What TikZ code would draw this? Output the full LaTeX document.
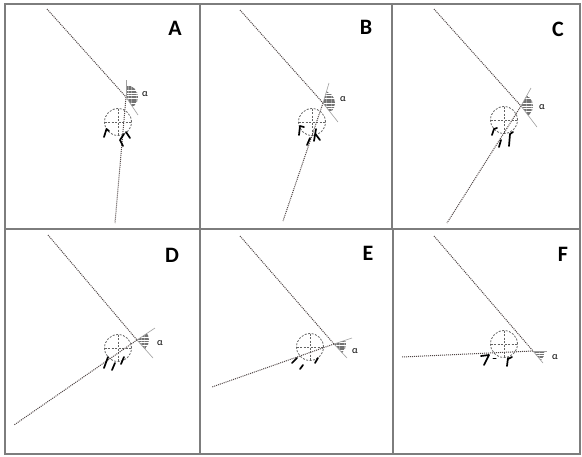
\documentclass[tikz,border=0pt]{standalone}
\usepackage{fontspec}
\setmainfont{Carlito}
\usetikzlibrary{calc,patterns.meta}
\definecolor{trajc}{RGB}{80,70,70}
\definecolor{ringc}{RGB}{100,100,100}
\definecolor{framec}{RGB}{125,125,125}
\tikzset{
  traj/.style={draw=trajc,line width=1pt,densely dotted},
  extl/.style={draw=gray!75,line width=0.6pt},
  ring/.style={draw=ringc,line width=0.8pt,dash pattern=on 2pt off 1.5pt},
  hatch/.style={pattern={Lines[angle=0,distance=2.6pt,line width=1.8pt]},pattern color=black!55},
  foot/.style={draw=black,line width=1.7pt,line cap=round,line join=round},
  lab/.style={font=\bfseries\fontsize{22}{22}\selectfont,inner sep=0pt},
  alph/.style={font=\fontsize{10}{10}\selectfont,inner sep=0pt},
  framel/.style={draw=framec,line width=1.5pt}
}
\newcommand\trajpanel[9]{%
  \coordinate (#9S) at (#1);
  \coordinate (#9V) at (#2);
  \coordinate (#9E) at (#3);
  \coordinate (#9U) at (#4);
  \coordinate (#9L) at (#5);
  \coordinate (#9C) at (#6);
  \coordinate (#9A1) at ($(#9V)!25pt!(#9E)$);
  \coordinate (#9A2) at ($(#9V)!25pt!(#9U)$);
  \coordinate (#9M) at ($(#9A1)!0.5!(#9A2)$);
  \coordinate (#9B) at ($(#9V)!25pt!(#9M)$);
  \begin{scope}
    \clip (#9V) -- (#9A1) -- (#9B) -- (#9A2) -- cycle;
    \fill[hatch] (#9V) circle (12pt);
  \end{scope}
  \draw[ring] (#9C) circle (13.5pt);
  \draw[ring] ($(#9C)+(-13.5,0)$) -- ($(#9C)+(13.5,0)$);
  \draw[ring] ($(#9C)+(0,-13.5)$) -- ($(#9C)+(0,13.5)$);
  \draw[traj] (#9S) -- (#9V);
  \draw[traj] (#9V) -- (#9L);
  \draw[extl] (#9V) -- (#9E);
  \draw[extl] (#9V) -- (#9U);
  \node[alph] (#9al) at (#7) {α};
  \node[lab] (#9lab) at (#8) {#9};
}
\begin{document}
\begin{tikzpicture}[x=1pt,y=-1pt]
\useasboundingbox (0,0) rectangle (582,456);
\fill[white] (0,0) rectangle (582,456);
% frame
\draw[framel] (5,4) rectangle (580,454);
\draw[framel] (5,229) -- (580,229);
\draw[framel] (200,4) -- (200,454);
\draw[framel] (392,4) -- (392,229);
\draw[framel] (393,229) -- (393,454);
% panels
\trajpanel{47,9}{126,97}{138,115}{126,80}{115,223}{118,122}{145,94}{175,28}{A}
\trajpanel{240,10}{323,103}{338,122}{329,83}{283,221}{312,122}{343,99}{366,27}{B}
\trajpanel{434,9}{521,106}{537,127}{531,88}{447,223}{504,120}{542,107}{558,29}{C}
\trajpanel{48,235}{137,340}{153,358}{155,328}{14,425}{118,348}{160,343}{172,255}{D}
\trajpanel{240,236}{334,344}{347,358}{352,338}{212,387}{310,347}{355,351}{368,253}{E}
\trajpanel{434,236}{533,351}{543,363}{547,351}{402,357}{504,344}{555,357}{563,254}{F}
% footprints A
\draw[foot] (109,131) -- (106.5,129) -- (104,137);
\draw[foot] (124,134) -- (120,140) -- (123,146);
\draw[foot] (126,132) -- (130,138);
% footprints B
\draw[foot] (304,127) -- (300,126) -- (299,135);
\draw[foot] (310,138) -- (307,145);
\draw[foot] (316,129) -- (314,141);
\draw[foot] (315.5,134) -- (320,140);
% footprints C
\draw[foot] (497,128) -- (494,129) -- (492,135);
\draw[foot] (501,140) -- (499,147);
\draw[foot] (509,146) -- (510,134) -- (513,132);
% footprints D
\draw[foot] (108,357) -- (104,368);
\draw[foot] (115,363) -- (112,370);
\draw[foot] (124,357) -- (121,364);
% footprints E
\draw[foot] (297,358) -- (292,363);
\draw[foot] (303,365) -- (300,369);
\draw[foot] (318,358) -- (315,363);
% footprints F
\draw[foot] (481,356) -- (489,355) -- (484,365);
\draw[foot,line width=1pt] (493,358) -- (496,358);
\draw[foot] (508,358) -- (507,366);
\draw[foot] (508,359) -- (512,357);
\end{tikzpicture}
\end{document}
